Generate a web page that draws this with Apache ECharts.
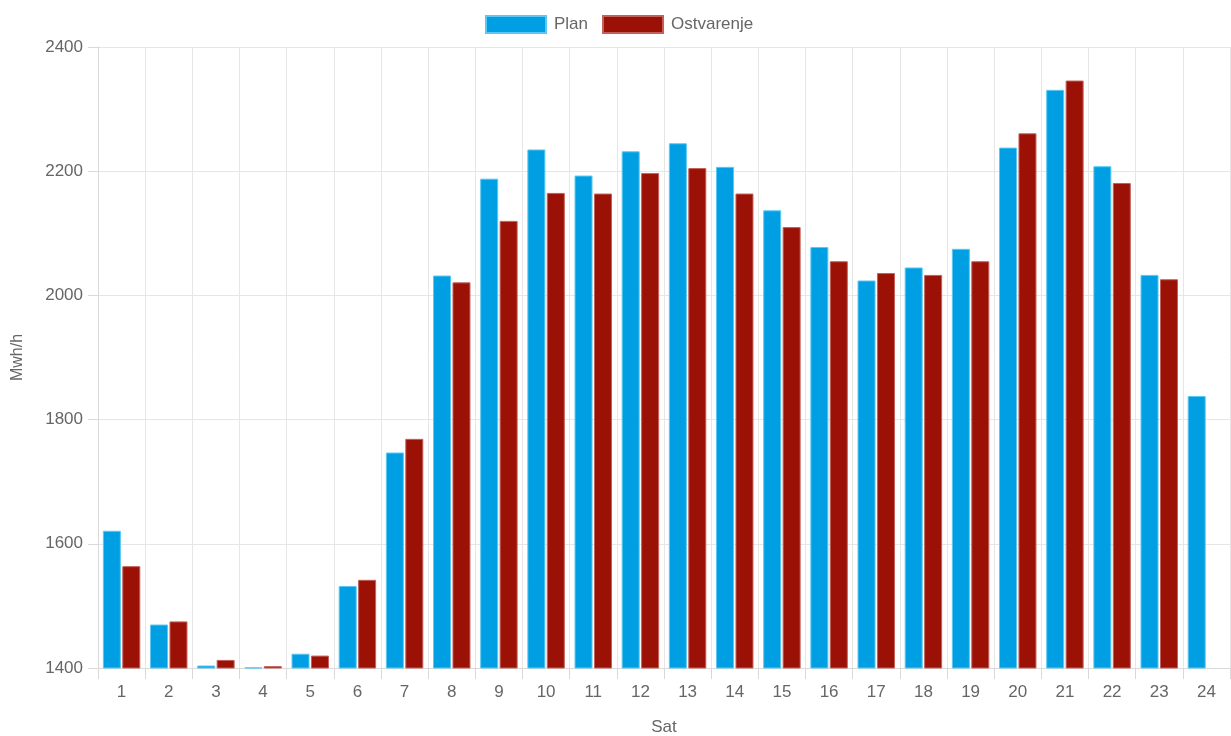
<!DOCTYPE html>
<html>
<head>
<meta charset="utf-8">
<script src="https://cdn.jsdelivr.net/npm/echarts@6/dist/echarts.min.js"></script>
<style>
html,body{margin:0;padding:0;background:#fff;}
#chart{width:1231px;height:736px;}
</style>
</head>
<body>
<div id="chart"></div>
<script>
const categories = ['1','2','3','4','5','6','7','8','9','10','11','12','13','14','15','16','17','18','19','20','21','22','23','24'];
const planValues = [1621,1470,1404,1401,1423,1532,1747,2032,2188,2235,2193,2232,2245,2207,2137,2078,2024,2045,2075,2238,2331,2208,2033,1838];
const ostvarenjeValues = [1564,1475,1413,1403,1420,1542,1769,2021,2120,2165,2164,2197,2205,2164,2110,2055,2036,2033,2055,2261,2346,2181,2026,null];
const yTicks = {min:1400, max:2400, interval:200};

const chart = echarts.init(document.getElementById('chart'), null, {renderer:'canvas'});
const font = 'Arial, "Liberation Sans", Helvetica, sans-serif';
chart.setOption({
  animation:false,
  textStyle:{fontFamily:font},
  legend:{
    top:10, left:480,
    itemWidth:60, itemHeight:17, itemGap:14,
    icon:'rect',
    textStyle:{color:'#666', fontSize:17, fontFamily:font, padding:[0,0,0,3]},
    data:['Plan','Ostvarenje']
  },
  grid:{left:98, right:1, top:47, bottom:68, containLabel:false, outerBoundsMode:'none'},
  xAxis:{
    type:'category', data:categories,
    name:'Sat', nameLocation:'middle', nameGap:51,
    nameTextStyle:{color:'#666', fontSize:17, fontFamily:font},
    axisLine:{show:true, lineStyle:{color:'#d9d9d9'}},
    axisTick:{show:true, length:11, lineStyle:{color:'#d9d9d9'}},
    axisLabel:{color:'#666', fontSize:17, margin:16, fontFamily:font},
    splitLine:{show:true, lineStyle:{color:'#e6e6e6'}}
  },
  yAxis:{
    type:'value', min:yTicks.min, max:yTicks.max, interval:yTicks.interval,
    name:'Mwh/h', nameLocation:'middle', nameGap:72, nameRotate:90,
    nameTextStyle:{color:'#666', fontSize:16, fontFamily:font},
    axisLine:{show:true, lineStyle:{color:'#d9d9d9'}},
    axisTick:{show:true, length:10, lineStyle:{color:'#d9d9d9'}},
    axisLabel:{color:'#666', fontSize:17, margin:15, fontFamily:font, formatter:function(v){return String(v);}},
    splitLine:{show:true, lineStyle:{color:'#e6e6e6'}}
  },
  series:[
    {name:'Plan', type:'bar', data:planValues, barWidth:18, barGap:'8%',
     itemStyle:{color:'#009fe3', borderColor:'#5cc8f2', borderWidth:1}},
    {name:'Ostvarenje', type:'bar', data:ostvarenjeValues, barWidth:18, barGap:'8%',
     itemStyle:{color:'#9b1106', borderColor:'#c4605a', borderWidth:1}}
  ]
});
</script>
</body>
</html>
